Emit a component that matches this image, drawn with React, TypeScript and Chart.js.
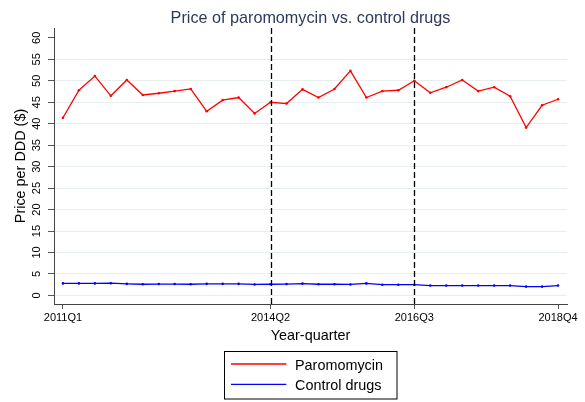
import React, { useEffect, useRef } from "react";
import { Chart, registerables } from "chart.js";

Chart.register(...registerables);

const quarters = [
  "2011Q1", "2011Q2", "2011Q3", "2011Q4",
  "2012Q1", "2012Q2", "2012Q3", "2012Q4",
  "2013Q1", "2013Q2", "2013Q3", "2013Q4",
  "2014Q1", "2014Q2", "2014Q3", "2014Q4",
  "2015Q1", "2015Q2", "2015Q3", "2015Q4",
  "2016Q1", "2016Q2", "2016Q3", "2016Q4",
  "2017Q1", "2017Q2", "2017Q3", "2017Q4",
  "2018Q1", "2018Q2", "2018Q3", "2018Q4",
];

const paromomycin = [
  41.4, 47.8, 51.1, 46.5, 50.2, 46.7, 47.1, 47.6,
  48.1, 42.9, 45.5, 46.1, 42.4, 45.0, 44.7, 48.0,
  46.1, 48.1, 52.3, 46.1, 47.6, 47.8, 50.0, 47.2,
  48.5, 50.2, 47.6, 48.5, 46.4, 39.1, 44.3, 45.7,
];

const controlDrugs = [
  2.8, 2.8, 2.8, 2.85, 2.7, 2.6, 2.65, 2.65,
  2.6, 2.7, 2.7, 2.7, 2.55, 2.6, 2.65, 2.75,
  2.6, 2.6, 2.55, 2.8, 2.5, 2.5, 2.5, 2.3,
  2.3, 2.3, 2.3, 2.3, 2.3, 2.05, 2.05, 2.3,
];

const xTickQuarters = ["2011Q1", "2014Q2", "2016Q3", "2018Q4"];
const eventQuarters = ["2014Q2", "2016Q3"];
const yTicks = [0, 5, 10, 15, 20, 25, 30, 35, 40, 45, 50, 55, 60];

const titleText = "Price of paromomycin vs. control drugs";
const FONT = "'Liberation Sans', Arial, Helvetica, sans-serif";

export default function App() {
  const ref = useRef<HTMLCanvasElement | null>(null);

  useEffect(() => {
    const canvas = ref.current;
    if (!canvas) return;

    const overlay = {
      id: "overlay",
      afterDatasetsDraw(chart: any) {
        const { ctx, chartArea, scales } = chart;
        ctx.save();
        ctx.strokeStyle = "#000";
        ctx.lineWidth = 1.3;
        ctx.setLineDash([6, 3]);
        eventQuarters.forEach((q) => {
          const x = Math.round(scales.x.getPixelForValue(quarters.indexOf(q))) + 0.5;
          ctx.beginPath();
          ctx.moveTo(x, chartArea.top);
          ctx.lineTo(x, chartArea.bottom);
          ctx.stroke();
        });
        ctx.restore();
      },
      afterDraw(chart: any) {
        const { ctx, chartArea } = chart;
        ctx.save();
        // Title
        ctx.fillStyle = "#2d3a5c";
        ctx.font = `16.2px ${FONT}`;
        ctx.textAlign = "center";
        ctx.textBaseline = "alphabetic";
        ctx.fillText(titleText, (chartArea.left + chartArea.right) / 2, 22.5);

        // Legend
        const bx = 224.5, by = 351.5, bw = 172.5, bh = 47.5;
        ctx.fillStyle = "#fff";
        ctx.fillRect(bx, by, bw, bh);
        ctx.strokeStyle = "#000";
        ctx.lineWidth = 1;
        ctx.strokeRect(bx, by, bw, bh);
        const ys = [364, 384.3];
        chart.data.datasets.forEach((ds: any, i: number) => {
          ctx.strokeStyle = ds.borderColor;
          ctx.lineWidth = 1.3;
          ctx.beginPath();
          ctx.moveTo(231, ys[i]);
          ctx.lineTo(286.3, ys[i]);
          ctx.stroke();
          ctx.fillStyle = "#000";
          ctx.font = `14.4px ${FONT}`;
          ctx.textAlign = "left";
          ctx.textBaseline = "alphabetic";
          ctx.fillText(ds.label, 295, ys[i] + 5.5);
        });
        ctx.restore();
      },
    };

    const chart = new Chart(canvas, {
      type: "line",
      data: {
        datasets: [
          {
            label: "Paromomycin",
            data: paromomycin.map((y, i) => ({ x: i, y })),
            borderColor: "#ff0000",
            backgroundColor: "#ff0000",
            borderWidth: 1.3,
            pointRadius: 1.3,
            pointBorderWidth: 0,
            tension: 0,
          },
          {
            label: "Control drugs",
            data: controlDrugs.map((y, i) => ({ x: i, y })),
            borderColor: "#0000ff",
            backgroundColor: "#0000ff",
            borderWidth: 1.3,
            pointRadius: 1.3,
            pointBorderWidth: 0,
            tension: 0,
          },
        ],
      },
      options: {
        responsive: false,
        animation: false,
        events: [],
        layout: { padding: { left: 0, top: 28, right: 18, bottom: 57 } },
        plugins: {
          legend: { display: false },
          title: { display: false },
          tooltip: { enabled: false },
        },
        scales: {
          x: {
            type: "linear",
            min: -0.56,
            max: 31.56,
            afterBuildTicks(scale: any) {
              scale.ticks = xTickQuarters.map((q) => ({ value: quarters.indexOf(q) }));
            },
            afterFit(scale: any) {
              scale.height = 41;
            },
            ticks: {
              autoSkip: false,
              maxRotation: 0,
              minRotation: 0,
              padding: 2,
              color: "#000",
              font: { family: FONT, size: 11 },
              callback: (v: any) => quarters[Math.round(Number(v))] ?? "",
            },
            grid: {
              drawOnChartArea: false,
              drawTicks: true,
              tickLength: 5,
              tickColor: "#555",
              tickWidth: 1,
            },
            border: { display: true, color: "#444", width: 1 },
            title: {
              display: true,
              text: "Year-quarter",
              color: "#000",
              font: { family: FONT, size: 14.4 },
              padding: { top: 0, bottom: 0 },
            },
          },
          y: {
            type: "linear",
            min: -2,
            max: 62.3,
            afterBuildTicks(scale: any) {
              scale.ticks = yTicks.map((v) => ({ value: v }));
            },
            afterFit(scale: any) {
              scale.width = 54;
            },
            ticks: {
              autoSkip: false,
              minRotation: 90,
              maxRotation: 90,
              crossAlign: "center",
              padding: 5.4,
              color: "#000",
              font: { family: FONT, size: 11 },
            },
            grid: {
              drawOnChartArea: true,
              drawTicks: true,
              tickLength: 6,
              tickColor: "#555",
              color: (c: any) => (c.tick && c.tick.value === 60 ? "rgba(0,0,0,0)" : "#e6eeee"),
              lineWidth: 1,
            },
            border: { display: true, color: "#444", width: 1 },
            title: {
              display: true,
              text: "Price per DDD ($)",
              color: "#000",
              font: { family: FONT, size: 14.4 },
              padding: { top: 12.4, bottom: 0 },
            },
          },
        },
      },
      plugins: [overlay],
    } as any);

    return () => chart.destroy();
  }, []);

  return (
    <div style={{ position: "absolute", left: 0, top: 0, width: 585, height: 402, background: "#fff" }}>
      <canvas ref={ref} width={585} height={402} style={{ display: "block" }} />
    </div>
  );
}
